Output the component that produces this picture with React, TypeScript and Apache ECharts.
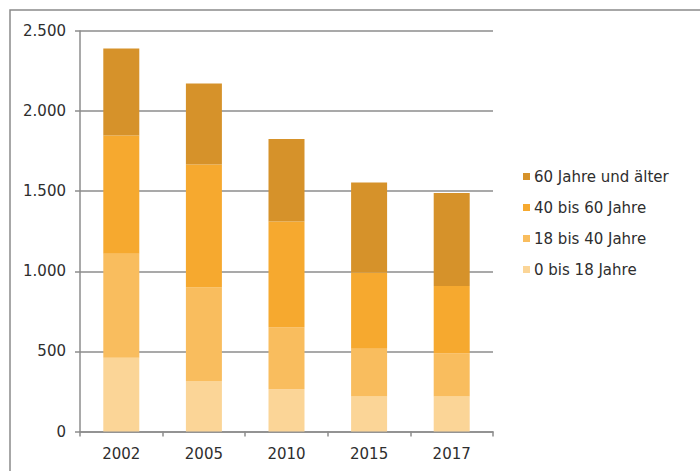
import React, { useEffect, useRef } from "react";
import * as echarts from "echarts";

const categories = ["2002", "2005", "2010", "2015", "2017"];
const age0to18 = [461, 316, 264, 218, 218];
const age18to40 = [648, 583, 387, 298, 271];
const age40to60 = [738, 767, 660, 477, 420];
const age60plus = [543, 506, 515, 562, 580];
const seriesNames = ["0 bis 18 Jahre", "18 bis 40 Jahre", "40 bis 60 Jahre", "60 Jahre und älter"];
const legendOrder = ["60 Jahre und älter", "40 bis 60 Jahre", "18 bis 40 Jahre", "0 bis 18 Jahre"];
const colors = ["#FBD597", "#F9BD5E", "#F6A92F", "#D6922A"];

const FONT = "DejaVu Sans";

export default function App() {
  const ref = useRef<HTMLDivElement>(null);
  useEffect(() => {
    if (!ref.current) return;
    const chart = echarts.init(ref.current, null, { renderer: "svg" });
    const data = [age0to18, age18to40, age40to60, age60plus];
    chart.setOption({
      animation: false,
      backgroundColor: "#ffffff",
      textStyle: { fontFamily: FONT },
      graphic: [
        {
          type: "rect",
          shape: { x: 10, y: 10, width: 720, height: 500 },
          style: { fill: "none", stroke: "#8a8a8a", lineWidth: 1.5 },
          silent: true,
        },
      ],
      grid: { left: 80, right: 207, top: 31, bottom: 39.5, containLabel: false },
      legend: {
        orient: "vertical",
        left: 518,
        top: 164,
        itemWidth: 7,
        itemHeight: 7,
        itemGap: 16,
        itemStyle: { borderWidth: 0 },
        icon: "rect",
        data: legendOrder,
        textStyle: { fontFamily: FONT, fontSize: 15, color: "#2e2e2e", padding: [0, 0, 0, -1] },
      },
      xAxis: {
        type: "category",
        data: categories,
        axisLine: { lineStyle: { color: "#8c8c8c", width: 1.5 } },
        axisTick: { show: true, length: 5, lineStyle: { color: "#8c8c8c", width: 1.5 } },
        axisLabel: { fontFamily: FONT, fontSize: 15, color: "#2e2e2e", margin: 15 },
      },
      yAxis: {
        type: "value",
        min: 0,
        max: 2500,
        interval: 500,
        axisLine: { show: true, lineStyle: { color: "#8c8c8c", width: 1.5 } },
        axisTick: { show: true, length: 5, lineStyle: { color: "#8c8c8c", width: 1.5 } },
        splitLine: { show: true, lineStyle: { color: "#8c8c8c", width: 1.5 } },
        axisLabel: {
          fontFamily: FONT,
          fontSize: 15,
          color: "#2e2e2e",
          margin: 14,
          formatter: (v: number) => v.toLocaleString("de-DE"),
        },
      },
      series: seriesNames.map((name, i) => ({
        name,
        type: "bar",
        stack: "total",
        barWidth: 36,
        data: data[i],
        itemStyle: { color: colors[i] },
      })),
    });
    return () => chart.dispose();
  }, []);
  return <div ref={ref} style={{ width: 700, height: 471, position: "absolute", left: 0, top: 0 }} />;
}
